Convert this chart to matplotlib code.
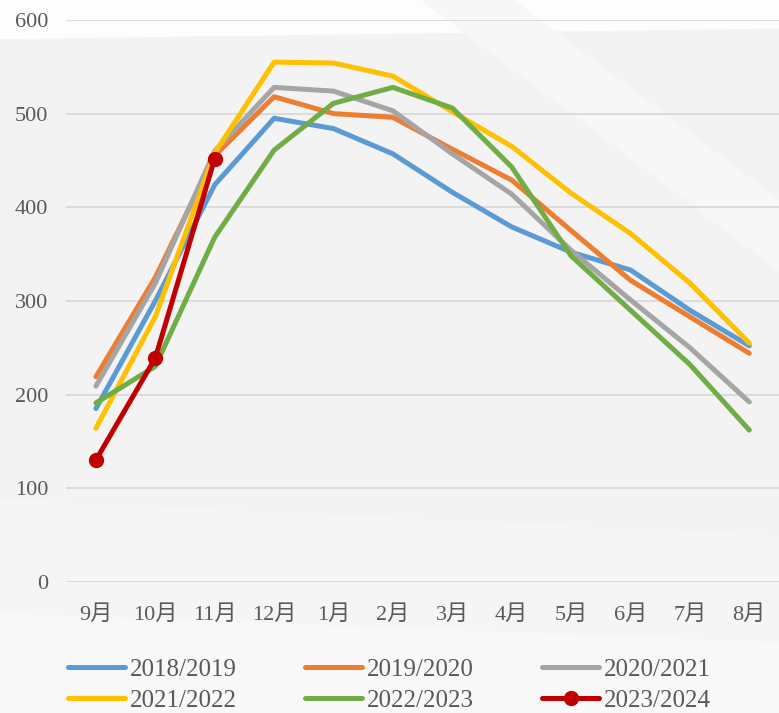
import numpy as np
import matplotlib
matplotlib.use("Agg")
import matplotlib.pyplot as plt
from matplotlib.patches import Polygon

plt.rcParams['font.family'] = ['Liberation Serif', 'Noto Sans CJK SC']

# ---- data ----
months = ["9月", "10月", "11月", "12月", "1月", "2月", "3月", "4月", "5月", "6月", "7月", "8月"]
s2018 = [185, 300, 424, 495, 484, 457, 416, 379, 352, 333, 290, 252]
s2019 = [219, 325, 455, 518, 500, 496, 462, 429, 375, 322, 283, 244]
s2020 = [209, 319, 460, 528, 524, 503, 457, 414, 354, 301, 250, 192]
s2021 = [164, 283, 458, 555, 554, 540, 502, 465, 415, 372, 319, 255]
s2022 = [191, 230, 368, 461, 511, 528, 506, 443, 348, 290, 232, 162]
s2023 = [130, 239, 452]

series = [
    ("2018/2019", s2018, "#5b9bd5"),
    ("2019/2020", s2019, "#ed7d31"),
    ("2020/2021", s2020, "#a5a5a5"),
    ("2021/2022", s2021, "#ffc000"),
    ("2022/2023", s2022, "#70ad47"),
]

fig = plt.figure(figsize=(7.79, 7.13), dpi=100, facecolor="#f3f3f3")

# faint background shapes
bg = fig.add_axes([0, 0, 1, 1], zorder=-1)
bg.set_xlim(0, 1); bg.set_ylim(0, 1); bg.axis("off")
bg.add_patch(Polygon([[0, 1], [1, 1], [1, 0.96], [0, 0.945]], closed=True, color="#fdfdfd", lw=0))
bg.add_patch(Polygon([[0.54, 1], [0.66, 1], [1, 0.72], [1, 0.62]], closed=True, color="#f7f7f7", lw=0))
bg.add_patch(Polygon([[0.0, 0.3], [0.0, 0.0], [1, 0.0], [1, 0.25]], closed=True, color="#f5f5f5", lw=0))
bg.add_patch(Polygon([[0.0, 0.14], [0.0, 0.0], [1, 0.0], [1, 0.1]], closed=True, color="#f8f8f8", lw=0))

ax = fig.add_axes([0.085, 0.184, 0.915, 0.788])
ax.set_facecolor("none")
x = np.arange(len(months))

handles = []
for label, vals, col in series:
    h, = ax.plot(x[:len(vals)], vals, color=col, lw=3.6, label=label, solid_capstyle="round")
    handles.append(h)
h, = ax.plot(x[:len(s2023)], s2023, color="#c00000", lw=3.6, marker="o", ms=10,
             label="2023/2024", solid_capstyle="round")
handles.append(h)

ax.set_xlim(-0.5, 11.5)
ax.set_ylim(0, 600)
ax.set_yticks(range(0, 601, 100))
ax.set_xticks(x)
ax.set_xticklabels(months)
ax.grid(axis="y", color="#d9d9d9", lw=1.3)
ax.set_axisbelow(True)
for sp in ax.spines.values():
    sp.set_visible(False)
ax.tick_params(length=0, labelsize=16, colors="#595959")
ax.tick_params(axis="x", pad=17)
ax.tick_params(axis="y", pad=13)

# legend rows: fill row by row (matplotlib fills columns first)
order = [0, 3, 1, 4, 2, 5]
fig.legend([handles[i] for i in order], [handles[i].get_label() for i in order],
           loc="upper left", bbox_to_anchor=(0.087, 0.077), ncol=3,
           frameon=False, fontsize=18, labelcolor="#595959",
           handlelength=2.3, handletextpad=0.2, columnspacing=2.7,
           labelspacing=0.35, borderaxespad=0, borderpad=0)

fig.savefig("out.png", dpi=100, facecolor=fig.get_facecolor())
